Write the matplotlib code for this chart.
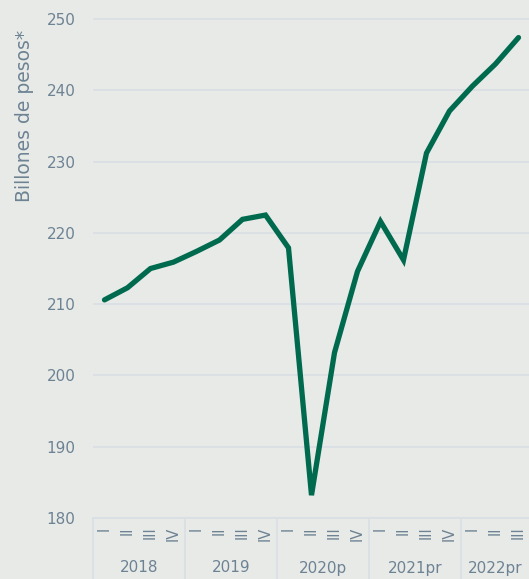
import matplotlib
matplotlib.use("Agg")
import matplotlib.pyplot as plt
import matplotlib.transforms as mtransforms

years = ["2018", "2019", "2020p", "2021pr", "2022pr"]
quarters_per_year = [4, 4, 4, 4, 3]
quarter_names = ["I", "II", "III", "IV"]
values = [210.6, 212.3, 215.0, 215.9,
          217.4, 219.0, 221.9, 222.5,
          217.9, 183.2, 203.2, 214.6,
          221.6, 216.2, 231.2, 237.1,
          240.6, 243.7, 247.4]
yticks = [180, 190, 200, 210, 220, 230, 240, 250]
ylabel = "Billones de pesos*"

BG = "#e8eae7"
GRID = "#d9e0e4"
TXT = "#6d8293"
LINE = "#006a4e"
FONT = "DejaVu Sans"

plt.rcParams['font.family'] = [FONT]

fig = plt.figure(figsize=(5.29, 5.79), dpi=100, facecolor=BG)
W, H = 529, 579
ax = fig.add_axes([93 / W, (H - 518) / H, (530 - 93) / W, 518 / H])
ax.set_facecolor(BG)

x = list(range(len(values)))
qlabels = []
for n in quarters_per_year:
    qlabels += quarter_names[:n]

ax.plot(x, values, color=LINE, lw=3.8, solid_capstyle='round', solid_joinstyle='miter', zorder=3)

ax.set_ylim(180, 250 + 19 / 7.11)
ax.set_xlim(-0.5, len(values) - 0.5)
ax.set_yticks(yticks)
ax.set_yticklabels([str(v) for v in yticks], fontsize=11, color=TXT)
ax.grid(axis='y', color=GRID, lw=1.3, zorder=0)
ax.tick_params(axis='y', length=0, pad=12.5)
ax.set_xticks(x)
ax.set_xticklabels(qlabels, rotation=90, fontsize=10.5, color=TXT, va='top')
ax.tick_params(axis='x', length=0, pad=6)

for s in ['top', 'right', 'left']:
    ax.spines[s].set_visible(False)
ax.spines['bottom'].set_color(GRID)
ax.spines['bottom'].set_linewidth(1.3)

ax.set_ylabel(ylabel, fontsize=13.5, color=TXT)
ax.yaxis.set_label_coords(-59 / 437, 1 - 116 / 518)

trans = mtransforms.blended_transform_factory(ax.transData, ax.transAxes)
start = 0
for yr, n in zip(years, quarters_per_year):
    ax.plot([start - 0.5, start - 0.5], [0, -70 / 518], transform=trans,
            color=GRID, lw=1.3, clip_on=False)
    ax.text(start + (n - 1) / 2, -50 / 518, yr,
            transform=trans, ha='center', va='center', fontsize=11, color=TXT)
    start += n

fig.savefig("out.png", dpi=100, facecolor=BG)
